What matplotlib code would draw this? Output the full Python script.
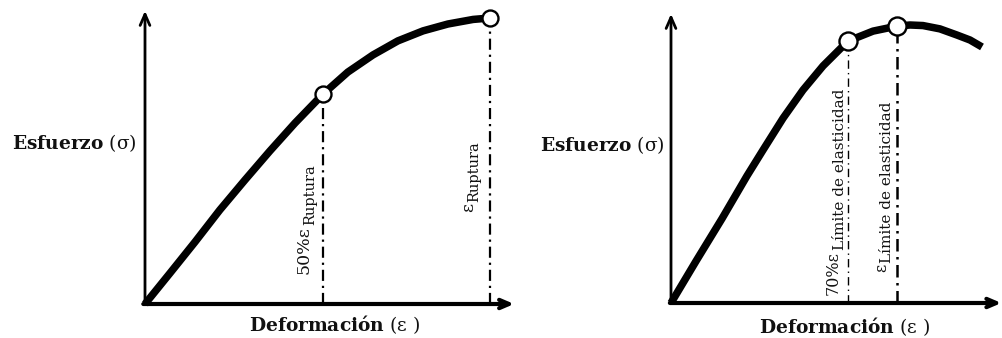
import matplotlib
matplotlib.use('Agg')
import matplotlib.pyplot as plt

W, H, DPI = 1002, 338, 100

# ---------------- data ----------------
left_strain = [0, 0.0725, 0.145, 0.217, 0.290, 0.362, 0.435, 0.516, 0.588, 0.661,
               0.733, 0.806, 0.878, 0.951, 1.0]
left_stress = [0, 0.108, 0.217, 0.329, 0.434, 0.535, 0.633, 0.734, 0.811, 0.871,
               0.920, 0.955, 0.979, 0.995, 1.0]
left_mark_strain = [0.516, 1.0]
left_mark_stress = [0.734, 1.0]
left_mark_main = ['50%ε', 'ε']
left_mark_sub = ['Ruptura', 'Ruptura']

right_strain = [0, 0.111, 0.226, 0.336, 0.407, 0.496, 0.584, 0.673, 0.783, 0.894,
                1.0, 1.058, 1.115, 1.190, 1.265, 1.323, 1.376]
right_stress = [0, 0.151, 0.304, 0.457, 0.550, 0.665, 0.766, 0.853, 0.942, 0.978,
                0.996, 1.0, 0.998, 0.986, 0.964, 0.946, 0.921]
right_mark_strain = [0.783, 1.0]
right_mark_stress = [0.942, 0.996]
right_mark_main = ['70%ε', 'ε']
right_mark_sub = ['Límite de elasticidad', 'Límite de elasticidad']

ylabel_text = 'Esfuerzo'
ylabel_sym = '(σ)'
xlabel_text = 'Deformación'
xlabel_sym = '(ε )'

plt.rcParams['font.family'] = ['DejaVu Serif']
plt.rcParams['mathtext.fontset'] = 'dejavuserif'
TXT = '#111111'

fig = plt.figure(figsize=(W / DPI, H / DPI), dpi=DPI)
renderer = fig.canvas.get_renderer()


def make_axes(origin_px, scale_px, xlim, ylim):
    ox, oy = origin_px
    sx, sy = scale_px
    left = (ox + xlim[0] * sx) / W
    width = (xlim[1] - xlim[0]) * sx / W
    bottom_px_from_top = oy - ylim[0] * sy
    bottom = (H - bottom_px_from_top) / H
    height = (ylim[1] - ylim[0]) * sy / H
    ax = fig.add_axes([left, bottom, width, height])
    ax.set_xlim(*xlim)
    ax.set_ylim(*ylim)
    ax.axis('off')
    return ax


def vlabel(ax, x, y, main, sub, main_size, sub_size, shift_px=5.5, gap_px=1):
    t = ax.text(x, y, main, rotation=90, rotation_mode='anchor', ha='left',
                va='baseline', fontsize=main_size, color=TXT)
    bb = t.get_window_extent(renderer)
    dx, dy = ax.transData.transform((x, y))
    sx, sy = ax.transData.inverted().transform((dx + shift_px, bb.y1 + gap_px))
    ax.text(sx, sy, sub, rotation=90, rotation_mode='anchor', ha='left',
            va='baseline', fontsize=sub_size, color=TXT)


def draw_panel(ax, strain, stress, mstrain, mstress, mains, subs, xtip, ytip,
               line_styles, label_pos, msize, sizes):
    ax.annotate('', xy=(0, ytip), xytext=(0, 0),
                arrowprops=dict(arrowstyle='->,head_length=0.8,head_width=0.35',
                                lw=2.0, color='black', shrinkA=0, shrinkB=0))
    ax.annotate('', xy=(xtip, 0), xytext=(-0.005, 0),
                arrowprops=dict(arrowstyle='->,head_length=0.7,head_width=0.3',
                                lw=3.0, color='black', shrinkA=0, shrinkB=0))
    ax.plot(strain, stress, color='black', lw=5.4, solid_capstyle='butt',
            solid_joinstyle='round', zorder=3)
    for xs, ys, (lw, dash) in zip(mstrain, mstress, line_styles):
        ax.plot([xs, xs], [0, ys], color='black', lw=lw, linestyle=(0, dash), zorder=2)
    ax.plot(mstrain, mstress, 'o', ms=msize, mfc='white', mec='black', mew=1.7, zorder=4)
    for m, s, (lx, ly), (ms_, ss_) in zip(mains, subs, label_pos, sizes):
        vlabel(ax, lx, ly, m, s, ms_, ss_)


# left panel
axL = make_axes((145, 304), (345, 286), (-0.12, 1.12), (-0.1, 1.08))
draw_panel(axL, left_strain, left_stress, left_mark_strain, left_mark_stress,
           left_mark_main, left_mark_sub, 1.07, 1.025,
           [(1.6, (5, 2.2, 1, 2.2)), (1.6, (5, 2.2, 1, 2.2))],
           [(0.475, 0.105), (0.951, 0.322)], 11.5, [(12.5, 10.5), (12.5, 10.5)])

# right panel
axR = make_axes((671, 303), (226, 278), (-0.12, 1.47), (-0.1, 1.08))
draw_panel(axR, right_strain, right_stress, right_mark_strain, right_mark_stress,
           right_mark_main, right_mark_sub, 1.462, 1.04,
           [(1.0, (6, 3, 1, 3)), (1.8, (5, 2.2, 1, 2.2))],
           [(0.739, 0.029), (0.951, 0.112)], 13, [(11.5, 11), (11.5, 11)])


def axis_title(x_px, y_px, bold, sym, ha='left'):
    fig.text(x_px / W, 1 - y_px / H, rf'$\mathbf{{{bold}}}$ {sym}',
             ha=ha, va='center', fontsize=13.4, color=TXT)


axis_title(12, 143, ylabel_text, ylabel_sym)
axis_title(540, 145, ylabel_text, ylabel_sym)
axis_title(335, 325, xlabel_text, xlabel_sym, ha='center')
axis_title(845, 327, xlabel_text, xlabel_sym, ha='center')

fig.savefig('out.png', dpi=DPI)
